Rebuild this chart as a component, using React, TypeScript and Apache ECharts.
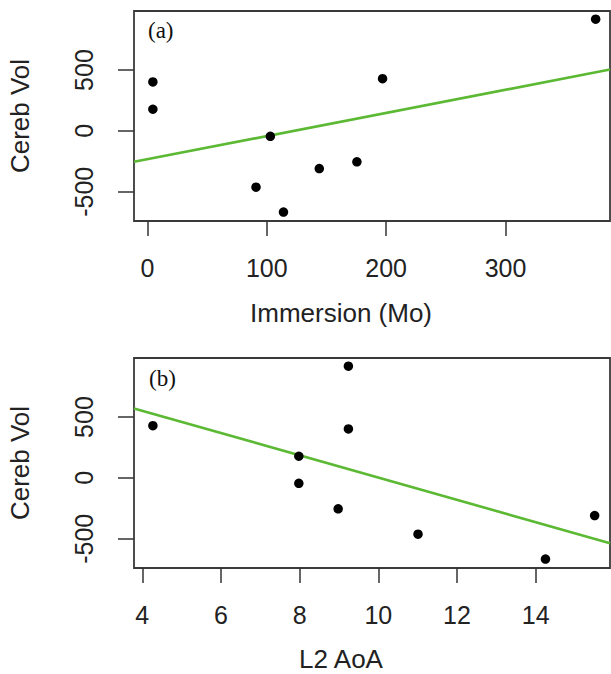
import React, { useEffect, useRef } from "react";
import * as echarts from "echarts";

// Data
const cerebVol = [402, 178, -44, -462, -667, -309, -254, 429, 918];
const immersion = [4.6, 4.6, 103, 91, 114, 144, 175.5, 197, 375.5];
const aoa = [9.24, 7.98, 7.98, 11.01, 14.25, 15.5, 8.98, 4.27, 9.24];

// fitted line end points (x, y)
const fitA: number[][] = [[-11.2, -254], [387.5, 504]];
const fitB: number[][] = [[3.79, 571], [15.89, -536]];

const ticksImmersion = [0, 100, 200, 300];
const ticksAoA = [4, 6, 8, 10, 12, 14];
const ticksVol = [-500, 0, 500];

const FONT = "'Liberation Sans', Arial, sans-serif";
const SERIF = "'Liberation Serif', 'Times New Roman', serif";
const GREEN = "#5cb934";
const INK = "#222";

function xAxisCfg(gridIndex: number, min: number, max: number, ticks: number[]) {
  return {
    gridIndex,
    type: "value",
    position: "bottom",
    min,
    max,
    splitLine: { show: false },
    axisLine: { show: false, onZero: false },
    axisTick: {
      show: true,
      inside: false,
      length: 15,
      customValues: ticks,
      lineStyle: { color: "#333", width: 1.5 },
    },
    axisLabel: {
      customValues: ticks,
      margin: 34,
      fontSize: 25,
      fontFamily: FONT,
      color: INK,
    },
  };
}

function yAxisCfg(gridIndex: number) {
  return {
    gridIndex,
    type: "value",
    position: "left",
    min: -740,
    max: 985,
    splitLine: { show: false },
    axisLine: { show: false, onZero: false },
    axisTick: {
      show: true,
      inside: false,
      length: 16,
      customValues: ticksVol,
      lineStyle: { color: "#333", width: 1.5 },
    },
    axisLabel: {
      customValues: ticksVol,
      rotate: 90,
      margin: 38,
      fontSize: 25,
      fontFamily: FONT,
      color: INK,
    },
  };
}

export default function App() {
  const ref = useRef<HTMLDivElement>(null);

  useEffect(() => {
    document.body.style.margin = "0";
    if (!ref.current) return;
    const chart = echarts.init(ref.current, null, { renderer: "svg" });

    const gridCommon = {
      show: true,
      borderColor: "#3a3a3a",
      borderWidth: 1.8,
      backgroundColor: "transparent",
      left: 134,
      width: 476,
      height: 210,
      containLabel: false,
    };

    const titleStyle = {
      fontSize: 26,
      fontFamily: FONT,
      fill: INK,
      align: "center",
      verticalAlign: "middle",
    };

    chart.setOption({
      animation: false,
      grid: [
        { ...gridCommon, top: 11 },
        { ...gridCommon, top: 358 },
      ],
      xAxis: [
        xAxisCfg(0, -11.2, 387.5, ticksImmersion),
        xAxisCfg(1, 3.79, 15.89, ticksAoA),
      ],
      yAxis: [yAxisCfg(0), yAxisCfg(1)],
      series: [
        {
          type: "line",
          xAxisIndex: 0,
          yAxisIndex: 0,
          data: fitA,
          symbol: "none",
          silent: true,
          lineStyle: { color: GREEN, width: 2.6 },
          z: 1,
        },
        {
          type: "scatter",
          xAxisIndex: 0,
          yAxisIndex: 0,
          data: immersion.map((x, i) => [x, cerebVol[i]]),
          symbolSize: 9.5,
          itemStyle: { color: "#000", opacity: 1 },
          z: 2,
        },
        {
          type: "line",
          xAxisIndex: 1,
          yAxisIndex: 1,
          data: fitB,
          symbol: "none",
          silent: true,
          lineStyle: { color: GREEN, width: 2.6 },
          z: 1,
        },
        {
          type: "scatter",
          xAxisIndex: 1,
          yAxisIndex: 1,
          data: aoa.map((x, i) => [x, cerebVol[i]]),
          symbolSize: 9.5,
          itemStyle: { color: "#000", opacity: 1 },
          z: 2,
        },
      ],
      graphic: [
        { type: "text", x: 341, y: 313, style: { ...titleStyle, text: "Immersion (Mo)" } },
        { type: "text", x: 341, y: 659, style: { ...titleStyle, text: "L2 AoA" } },
        { type: "text", x: 20, y: 116, rotation: Math.PI / 2, style: { ...titleStyle, text: "Cereb Vol" } },
        { type: "text", x: 20, y: 463, rotation: Math.PI / 2, style: { ...titleStyle, text: "Cereb Vol" } },
        {
          type: "text",
          x: 148,
          y: 30,
          style: { text: "(a)", fontSize: 23, fontFamily: SERIF, fill: "#111", align: "left", verticalAlign: "middle" },
        },
        {
          type: "text",
          x: 149,
          y: 378,
          style: { text: "(b)", fontSize: 23, fontFamily: SERIF, fill: "#111", align: "left", verticalAlign: "middle" },
        },
      ],
    });

    return () => chart.dispose();
  }, []);

  return <div ref={ref} style={{ width: 611, height: 674 }} />;
}
